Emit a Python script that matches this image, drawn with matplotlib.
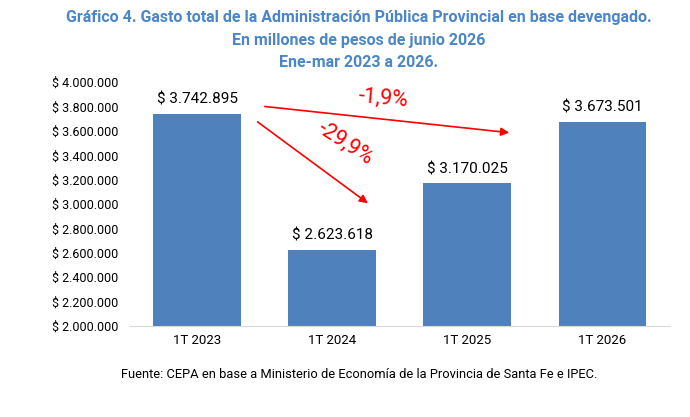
import matplotlib.pyplot as plt
from matplotlib.ticker import FuncFormatter

plt.rcParams['font.family'] = ['Roboto', 'DejaVu Sans']

# datos
periodos = ['1T 2023', '1T 2024', '1T 2025', '1T 2026']
gasto = [3742895, 2623618, 3170025, 3673501]
var_2024 = '-29,9%'
var_2026 = '-1,9%'

azul = '#4f81bd'
rojo = '#ff0000'


def pesos(v, pos=None):
    return '$ ' + f'{v:,.0f}'.replace(',', '.')


fig = plt.figure(figsize=(6.9, 4.17), dpi=100)
ax = fig.add_axes([0.188, 0.218, 0.783, 0.585])

x = range(len(periodos))
ax.bar(x, gasto, width=0.65, color=azul, zorder=2)

ax.set_ylim(2000000, 4000000)
ax.set_xlim(-0.5, 3.5)
ax.set_yticks(range(2000000, 4000001, 200000))
ax.yaxis.set_major_formatter(FuncFormatter(pesos))
ax.set_xticks(list(x))
ax.set_xticklabels(periodos)
ax.tick_params(axis='y', length=0, labelsize=9, pad=8)
ax.tick_params(axis='x', length=0, labelsize=9.5, pad=6)
for s in ['top', 'right', 'left']:
    ax.spines[s].set_visible(False)
ax.spines['bottom'].set_color('#d9d9d9')

for i, v in enumerate(gasto):
    ax.text(i, v + 60000, pesos(v), ha='center', va='bottom', fontsize=11)

# flechas de variacion
ax.annotate('', xy=(2.33, gasto[3] - 90000), xytext=(0.48, gasto[0] + 60000),
            arrowprops=dict(arrowstyle='-|>', color=rojo, lw=1.2, mutation_scale=12))
ax.annotate('', xy=(1.28, gasto[1] + 370000), xytext=(0.43, gasto[0] - 55000),
            arrowprops=dict(arrowstyle='-|>', color=rojo, lw=1.2, mutation_scale=12))
ax.text(1.38, 3870000, var_2026, color=rojo, fontsize=15.5, rotation=-5,
        ha='center', va='center')
ax.text(1.1, 3500000, var_2024, color=rojo, fontsize=15.5, rotation=-33,
        ha='center', va='center')

fig.text(0.52, 0.975, 'Gráfico 4. Gasto total de la Administración Pública Provincial en base devengado.\n'
         'En millones de pesos de junio 2026\nEne-mar 2023 a 2026.',
         ha='center', va='top', color='#4a86c8', fontsize=11.5, fontweight='bold',
         linespacing=1.6, fontstretch='condensed')
fig.text(0.52, 0.103, 'Fuente: CEPA en base a Ministerio de Economía de la Provincia de Santa Fe e IPEC.',
         ha='center', va='center', fontsize=9.3)

fig.savefig('out.png', dpi=100)
